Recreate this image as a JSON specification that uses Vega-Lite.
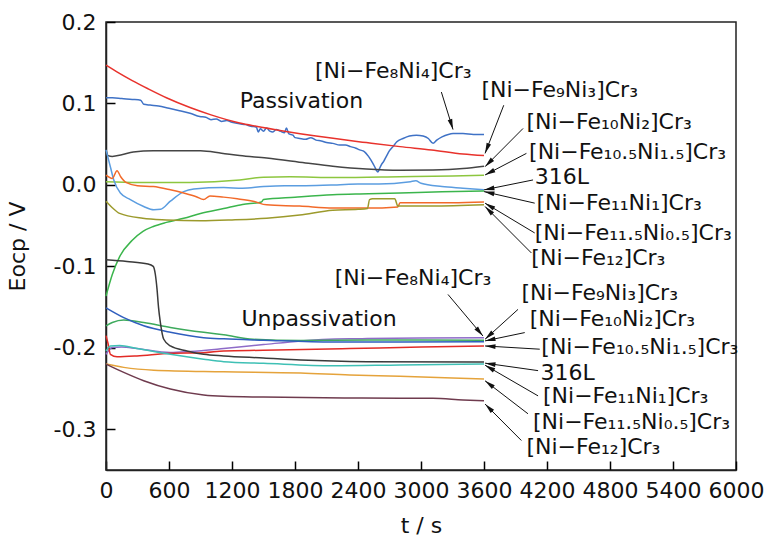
{
  "$schema": "https://vega.github.io/schema/vega-lite/v6.json",
  "width": 630,
  "height": 448,
  "autosize": {"type": "none"},
  "padding": {"left": 106, "top": 22, "right": 32, "bottom": 82},
  "config": {
    "font": "DejaVu Sans",
    "view": {"stroke": "#222222", "strokeWidth": 1.5},
    "axis": {
      "grid": false,
      "domainColor": "#222222",
      "domainWidth": 1.5,
      "tickColor": "#000000",
      "tickWidth": 1.5,
      "tickSize": -9,
      "labelFontSize": 22,
      "labelColor": "#111111",
      "titleFontSize": 22,
      "titleFontWeight": "normal",
      "titleColor": "#111111",
      "labelOverlap": false,
      "labelFlush": false
    }
  },
  "datasets": {
    "curves": [
      {"s":"P8","t":0,"v":0.107},{"s":"P8","t":60,"v":0.107},{"s":"P8","t":150,"v":0.106},{"s":"P8","t":250,"v":0.105},{"s":"P8","t":330,"v":0.104},{"s":"P8","t":360,"v":0.099},{"s":"P8","t":420,"v":0.098},{"s":"P8","t":500,"v":0.097},{"s":"P8","t":600,"v":0.094},{"s":"P8","t":700,"v":0.091},{"s":"P8","t":800,"v":0.088},{"s":"P8","t":893,"v":0.084},{"s":"P8","t":950,"v":0.083},{"s":"P8","t":1000,"v":0.080},{"s":"P8","t":1050,"v":0.081},{"s":"P8","t":1100,"v":0.078},{"s":"P8","t":1150,"v":0.079},{"s":"P8","t":1200,"v":0.077},{"s":"P8","t":1273,"v":0.075},{"s":"P8","t":1330,"v":0.074},{"s":"P8","t":1380,"v":0.072},{"s":"P8","t":1432,"v":0.071},{"s":"P8","t":1450,"v":0.065},{"s":"P8","t":1470,"v":0.069},{"s":"P8","t":1500,"v":0.066},{"s":"P8","t":1530,"v":0.070},{"s":"P8","t":1560,"v":0.066},{"s":"P8","t":1590,"v":0.065},{"s":"P8","t":1620,"v":0.068},{"s":"P8","t":1660,"v":0.066},{"s":"P8","t":1700,"v":0.064},{"s":"P8","t":1718,"v":0.070},{"s":"P8","t":1740,"v":0.063},{"s":"P8","t":1781,"v":0.061},{"s":"P8","t":1800,"v":0.058},{"s":"P8","t":1845,"v":0.057},{"s":"P8","t":1900,"v":0.056},{"s":"P8","t":1950,"v":0.058},{"s":"P8","t":2000,"v":0.055},{"s":"P8","t":2050,"v":0.054},{"s":"P8","t":2100,"v":0.052},{"s":"P8","t":2160,"v":0.051},{"s":"P8","t":2226,"v":0.049},{"s":"P8","t":2280,"v":0.049},{"s":"P8","t":2330,"v":0.047},{"s":"P8","t":2380,"v":0.045},{"s":"P8","t":2416,"v":0.043},{"s":"P8","t":2460,"v":0.041},{"s":"P8","t":2500,"v":0.035},{"s":"P8","t":2525,"v":0.030},{"s":"P8","t":2543,"v":0.026},{"s":"P8","t":2560,"v":0.022},{"s":"P8","t":2575,"v":0.018},{"s":"P8","t":2590,"v":0.016},{"s":"P8","t":2605,"v":0.020},{"s":"P8","t":2623,"v":0.025},{"s":"P8","t":2645,"v":0.029},{"s":"P8","t":2670,"v":0.035},{"s":"P8","t":2700,"v":0.042},{"s":"P8","t":2733,"v":0.047},{"s":"P8","t":2770,"v":0.053},{"s":"P8","t":2829,"v":0.057},{"s":"P8","t":2890,"v":0.060},{"s":"P8","t":2956,"v":0.061},{"s":"P8","t":3020,"v":0.060},{"s":"P8","t":3070,"v":0.057},{"s":"P8","t":3115,"v":0.051},{"s":"P8","t":3150,"v":0.055},{"s":"P8","t":3200,"v":0.059},{"s":"P8","t":3260,"v":0.062},{"s":"P8","t":3305,"v":0.063},{"s":"P8","t":3400,"v":0.063},{"s":"P8","t":3500,"v":0.062},{"s":"P8","t":3600,"v":0.062},
      {"s":"P9","t":0,"v":0.147},{"s":"P9","t":100,"v":0.139},{"s":"P9","t":250,"v":0.128},{"s":"P9","t":400,"v":0.118},{"s":"P9","t":575,"v":0.107},{"s":"P9","t":800,"v":0.095},{"s":"P9","t":1000,"v":0.086},{"s":"P9","t":1273,"v":0.076},{"s":"P9","t":1430,"v":0.072},{"s":"P9","t":1700,"v":0.066},{"s":"P9","t":2000,"v":0.060},{"s":"P9","t":2480,"v":0.052},{"s":"P9","t":2800,"v":0.047},{"s":"P9","t":3100,"v":0.043},{"s":"P9","t":3400,"v":0.038},{"s":"P9","t":3600,"v":0.036},
      {"s":"P10","t":0,"v":0.043},{"s":"P10","t":20,"v":0.036},{"s":"P10","t":60,"v":0.035},{"s":"P10","t":150,"v":0.037},{"s":"P10","t":260,"v":0.0405},{"s":"P10","t":450,"v":0.042},{"s":"P10","t":700,"v":0.042},{"s":"P10","t":900,"v":0.042},{"s":"P10","t":1100,"v":0.039},{"s":"P10","t":1273,"v":0.036},{"s":"P10","t":1530,"v":0.033},{"s":"P10","t":1900,"v":0.027},{"s":"P10","t":2160,"v":0.023},{"s":"P10","t":2480,"v":0.0195},{"s":"P10","t":2800,"v":0.018},{"s":"P10","t":3113,"v":0.0183},{"s":"P10","t":3400,"v":0.020},{"s":"P10","t":3600,"v":0.023},
      {"s":"P105","t":0,"v":0.004},{"s":"P105","t":300,"v":0.003},{"s":"P105","t":800,"v":0.003},{"s":"P105","t":1273,"v":0.006},{"s":"P105","t":1500,"v":0.0095},{"s":"P105","t":1750,"v":0.010},{"s":"P105","t":2200,"v":0.009},{"s":"P105","t":2800,"v":0.010},{"s":"P105","t":3300,"v":0.011},{"s":"P105","t":3600,"v":0.012},
      {"s":"P316","t":0,"v":0.043},{"s":"P316","t":42,"v":0.022},{"s":"P316","t":74,"v":0.006},{"s":"P316","t":137,"v":-0.010},{"s":"P316","t":232,"v":-0.018},{"s":"P316","t":359,"v":-0.0265},{"s":"P316","t":455,"v":-0.0306},{"s":"P316","t":520,"v":-0.030},{"s":"P316","t":613,"v":-0.020},{"s":"P316","t":740,"v":-0.0082},{"s":"P316","t":836,"v":-0.005},{"s":"P316","t":1121,"v":-0.0033},{"s":"P316","t":1300,"v":-0.004},{"s":"P316","t":1500,"v":-0.002},{"s":"P316","t":1700,"v":-0.001},{"s":"P316","t":1900,"v":-0.001},{"s":"P316","t":2200,"v":0.000},{"s":"P316","t":2400,"v":0.001},{"s":"P316","t":2600,"v":0.001},{"s":"P316","t":2900,"v":0.004},{"s":"P316","t":2950,"v":0.005},{"s":"P316","t":3000,"v":0.002},{"s":"P316","t":3200,"v":-0.002},{"s":"P316","t":3400,"v":-0.004},{"s":"P316","t":3600,"v":-0.006},
      {"s":"P11","t":0,"v":-0.1365},{"s":"P11","t":60,"v":-0.110},{"s":"P11","t":130,"v":-0.088},{"s":"P11","t":250,"v":-0.068},{"s":"P11","t":352,"v":-0.057},{"s":"P11","t":450,"v":-0.051},{"s":"P11","t":575,"v":-0.046},{"s":"P11","t":740,"v":-0.041},{"s":"P11","t":900,"v":-0.035},{"s":"P11","t":1121,"v":-0.029},{"s":"P11","t":1300,"v":-0.024},{"s":"P11","t":1480,"v":-0.021},{"s":"P11","t":1500,"v":-0.018},{"s":"P11","t":1800,"v":-0.015},{"s":"P11","t":2160,"v":-0.012},{"s":"P11","t":2500,"v":-0.011},{"s":"P11","t":2800,"v":-0.010},{"s":"P11","t":3200,"v":-0.0085},{"s":"P11","t":3600,"v":-0.0075},
      {"s":"P115","t":0,"v":0.012},{"s":"P115","t":60,"v":0.008},{"s":"P115","t":105,"v":0.0175},{"s":"P115","t":140,"v":0.010},{"s":"P115","t":190,"v":0.003},{"s":"P115","t":300,"v":-0.001},{"s":"P115","t":450,"v":-0.002},{"s":"P115","t":613,"v":-0.006},{"s":"P115","t":740,"v":-0.010},{"s":"P115","t":860,"v":-0.0145},{"s":"P115","t":930,"v":-0.018},{"s":"P115","t":990,"v":-0.0135},{"s":"P115","t":1120,"v":-0.015},{"s":"P115","t":1250,"v":-0.017},{"s":"P115","t":1400,"v":-0.020},{"s":"P115","t":1530,"v":-0.0245},{"s":"P115","t":1845,"v":-0.026},{"s":"P115","t":2160,"v":-0.0285},{"s":"P115","t":2480,"v":-0.0285},{"s":"P115","t":2780,"v":-0.027},{"s":"P115","t":2800,"v":-0.022},{"s":"P115","t":3000,"v":-0.022},{"s":"P115","t":3300,"v":-0.022},{"s":"P115","t":3600,"v":-0.021},
      {"s":"P12","t":0,"v":-0.020},{"s":"P12","t":60,"v":-0.028},{"s":"P12","t":130,"v":-0.035},{"s":"P12","t":350,"v":-0.041},{"s":"P12","t":575,"v":-0.043},{"s":"P12","t":900,"v":-0.044},{"s":"P12","t":1200,"v":-0.043},{"s":"P12","t":1530,"v":-0.041},{"s":"P12","t":1845,"v":-0.037},{"s":"P12","t":2160,"v":-0.031},{"s":"P12","t":2400,"v":-0.030},{"s":"P12","t":2490,"v":-0.029},{"s":"P12","t":2510,"v":-0.018},{"s":"P12","t":2540,"v":-0.017},{"s":"P12","t":2750,"v":-0.017},{"s":"P12","t":2780,"v":-0.026},{"s":"P12","t":3100,"v":-0.026},{"s":"P12","t":3600,"v":-0.0245},
      {"s":"U8","t":0,"v":-0.208},{"s":"U8","t":60,"v":-0.1997},{"s":"U8","t":150,"v":-0.199},{"s":"U8","t":295,"v":-0.2009},{"s":"U8","t":613,"v":-0.2058},{"s":"U8","t":800,"v":-0.2045},{"s":"U8","t":1121,"v":-0.2009},{"s":"U8","t":1219,"v":-0.1997},{"s":"U8","t":1500,"v":-0.196},{"s":"U8","t":1854,"v":-0.1915},{"s":"U8","t":2320,"v":-0.189},{"s":"U8","t":2489,"v":-0.1887},{"s":"U8","t":3000,"v":-0.188},{"s":"U8","t":3600,"v":-0.1875},
      {"s":"U9","t":0,"v":-0.173},{"s":"U9","t":60,"v":-0.169},{"s":"U9","t":169,"v":-0.166},{"s":"U9","t":359,"v":-0.169},{"s":"U9","t":613,"v":-0.175},{"s":"U9","t":930,"v":-0.181},{"s":"U9","t":1121,"v":-0.184},{"s":"U9","t":1400,"v":-0.1895},{"s":"U9","t":1854,"v":-0.191},{"s":"U9","t":2500,"v":-0.1905},{"s":"U9","t":3000,"v":-0.1905},{"s":"U9","t":3600,"v":-0.1907},
      {"s":"U10","t":0,"v":-0.151},{"s":"U10","t":169,"v":-0.163},{"s":"U10","t":359,"v":-0.173},{"s":"U10","t":613,"v":-0.181},{"s":"U10","t":930,"v":-0.1875},{"s":"U10","t":1121,"v":-0.189},{"s":"U10","t":1500,"v":-0.1907},{"s":"U10","t":2160,"v":-0.193},{"s":"U10","t":2800,"v":-0.193},{"s":"U10","t":3600,"v":-0.1927},
      {"s":"U105","t":0,"v":-0.185},{"s":"U105","t":20,"v":-0.195},{"s":"U105","t":42,"v":-0.208},{"s":"U105","t":105,"v":-0.211},{"s":"U105","t":295,"v":-0.210},{"s":"U105","t":613,"v":-0.2066},{"s":"U105","t":930,"v":-0.206},{"s":"U105","t":1121,"v":-0.2038},{"s":"U105","t":1500,"v":-0.203},{"s":"U105","t":2320,"v":-0.2009},{"s":"U105","t":3000,"v":-0.199},{"s":"U105","t":3600,"v":-0.1977},
      {"s":"U316","t":0,"v":-0.092},{"s":"U316","t":200,"v":-0.094},{"s":"U316","t":400,"v":-0.097},{"s":"U316","t":450,"v":-0.100},{"s":"U316","t":470,"v":-0.110},{"s":"U316","t":486,"v":-0.128},{"s":"U316","t":500,"v":-0.150},{"s":"U316","t":518,"v":-0.169},{"s":"U316","t":550,"v":-0.1895},{"s":"U316","t":613,"v":-0.1977},{"s":"U316","t":771,"v":-0.2038},{"s":"U316","t":930,"v":-0.208},{"s":"U316","t":1121,"v":-0.210},{"s":"U316","t":1500,"v":-0.2125},{"s":"U316","t":1854,"v":-0.215},{"s":"U316","t":2489,"v":-0.217},{"s":"U316","t":3600,"v":-0.2175},
      {"s":"U11","t":0,"v":-0.204},{"s":"U11","t":42,"v":-0.1977},{"s":"U11","t":130,"v":-0.197},{"s":"U11","t":295,"v":-0.2009},{"s":"U11","t":613,"v":-0.208},{"s":"U11","t":930,"v":-0.214},{"s":"U11","t":1121,"v":-0.217},{"s":"U11","t":1500,"v":-0.219},{"s":"U11","t":2160,"v":-0.222},{"s":"U11","t":2800,"v":-0.221},{"s":"U11","t":3600,"v":-0.220},
      {"s":"U115","t":0,"v":-0.220},{"s":"U115","t":169,"v":-0.224},{"s":"U115","t":455,"v":-0.2274},{"s":"U115","t":1121,"v":-0.2294},{"s":"U115","t":1854,"v":-0.231},{"s":"U115","t":2320,"v":-0.2335},{"s":"U115","t":2800,"v":-0.235},{"s":"U115","t":3300,"v":-0.237},{"s":"U115","t":3600,"v":-0.2384},
      {"s":"U12","t":0,"v":-0.220},{"s":"U12","t":169,"v":-0.2302},{"s":"U12","t":359,"v":-0.2404},{"s":"U12","t":613,"v":-0.2506},{"s":"U12","t":930,"v":-0.258},{"s":"U12","t":1121,"v":-0.2596},{"s":"U12","t":1500,"v":-0.2605},{"s":"U12","t":2320,"v":-0.2616},{"s":"U12","t":2800,"v":-0.262},{"s":"U12","t":3113,"v":-0.262},{"s":"U12","t":3400,"v":-0.264},{"s":"U12","t":3600,"v":-0.265}
    ],
    "arrows": [
      {"t":3194,"v":0.114,"t2":3305,"v2":0.068},
      {"t":3788,"v":0.0978,"t2":3610,"v2":0.0387},
      {"t":3972,"v":0.0693,"t2":3610,"v2":0.0224},
      {"t":4004,"v":0.0387,"t2":3610,"v2":0.0122},
      {"t":4067,"v":0.0061,"t2":3600,"v2":-0.0061},
      {"t":4083,"v":-0.0224,"t2":3600,"v2":-0.0082},
      {"t":4083,"v":-0.059,"t2":3610,"v2":-0.0224},
      {"t":4051,"v":-0.0835,"t2":3610,"v2":-0.0265},
      {"t":3257,"v":-0.1345,"t2":3590,"v2":-0.1855},
      {"t":3924,"v":-0.1528,"t2":3610,"v2":-0.1895},
      {"t":3988,"v":-0.1813,"t2":3610,"v2":-0.1915},
      {"t":4131,"v":-0.2017,"t2":3610,"v2":-0.1977},
      {"t":4115,"v":-0.228,"t2":3610,"v2":-0.2188},
      {"t":4115,"v":-0.259,"t2":3610,"v2":-0.2213},
      {"t":4019,"v":-0.281,"t2":3610,"v2":-0.2405},
      {"t":3956,"v":-0.3138,"t2":3610,"v2":-0.269}
    ],
    "labels": [
      {"label":"[Ni−Fe₈Ni₄]Cr₃","t":1990,"v":0.140},
      {"label":"Passivation","t":1273,"v":0.1027},
      {"label":"[Ni−Fe₉Ni₃]Cr₃","t":3575,"v":0.116},
      {"label":"[Ni−Fe₁₀Ni₂]Cr₃","t":4004,"v":0.0774},
      {"label":"[Ni−Fe₁₀.₅Ni₁.₅]Cr₃","t":4029,"v":0.0407},
      {"label":"316L","t":4083,"v":0.0102},
      {"label":"[Ni−Fe₁₁Ni₁]Cr₃","t":4099,"v":-0.0224},
      {"label":"[Ni−Fe₁₁.₅Ni₀.₅]Cr₃","t":4083,"v":-0.059},
      {"label":"[Ni−Fe₁₂]Cr₃","t":4051,"v":-0.0896},
      {"label":"[Ni−Fe₈Ni₄]Cr₃","t":2178,"v":-0.114},
      {"label":"Unpassivation","t":1290,"v":-0.165},
      {"label":"[Ni−Fe₉Ni₃]Cr₃","t":3956,"v":-0.1324},
      {"label":"[Ni−Fe₁₀Ni₂]Cr₃","t":4035,"v":-0.165},
      {"label":"[Ni−Fe₁₀.₅Ni₁.₅]Cr₃","t":4146,"v":-0.1985},
      {"label":"316L","t":4137,"v":-0.2305},
      {"label":"[Ni−Fe₁₁Ni₁]Cr₃","t":4162,"v":-0.2595},
      {"label":"[Ni−Fe₁₁.₅Ni₀.₅]Cr₃","t":4067,"v":-0.2915},
      {"label":"[Ni−Fe₁₂]Cr₃","t":4004,"v":-0.322}
    ]
  },
  "layer": [
    {
      "data": {"name": "curves"},
      "mark": {"type": "line", "strokeWidth": 1.5, "interpolate": "monotone"},
      "encoding": {
        "x": {"field": "t", "type": "quantitative", "scale": {"domain": [0, 6000], "nice": false, "zero": false},
              "axis": {"title": "t / s", "values": [0,600,1200,1800,2400,3000,3600,4200,4800,5400,6000], "format": "d", "labelPadding": 19, "titlePadding": 14}},
        "y": {"field": "v", "type": "quantitative", "scale": {"domain": [-0.35, 0.2], "nice": false, "zero": false},
              "axis": {"title": "Eocp / V", "values": [-0.3,-0.2,-0.1,0,0.1,0.2], "labelExpr": "replace(format(datum.value, '.1f'), '−', '-')", "labelPadding": 19, "titlePadding": 24}},
        "color": {"field": "s", "type": "nominal", "legend": null,
                  "scale": {"domain": ["P8","P9","P10","P105","P316","P11","P115","P12","U8","U9","U10","U105","U316","U11","U115","U12"],
                            "range": ["#3F72C6","#E8322C","#454545","#8DC63F","#5B9DE0","#3BB54C","#F26A2A","#9C9A2C","#8E6BC8","#3DAA5C","#2F5EBE","#E22B26","#3A3A3A","#3FC0B5","#E5A33B","#6F3B4E"]}},
        "detail": {"field": "s"}
      }
    },
    {
      "data": {"name": "arrows"},
      "mark": {"type": "rule", "color": "#111111", "strokeWidth": 1},
      "encoding": {
        "x": {"field": "t", "type": "quantitative", "title": "t / s"},
        "y": {"field": "v", "type": "quantitative", "title": "Eocp / V"},
        "x2": {"field": "t2"},
        "y2": {"field": "v2"}
      }
    },
    {
      "data": {"name": "arrows"},
      "transform": [{"calculate": "atan2((datum.t2 - datum.t) * 0.105, (datum.v2 - datum.v) * 814.5) * 180 / PI", "as": "ang"}],
      "mark": {"type": "point", "shape": "M0,0L0.5,2.2L-0.5,2.2Z", "filled": true, "color": "#111111", "size": 90, "opacity": 1},
      "encoding": {
        "x": {"field": "t2", "type": "quantitative", "title": "t / s"},
        "y": {"field": "v2", "type": "quantitative", "title": "Eocp / V"},
        "angle": {"field": "ang", "type": "quantitative", "scale": null}
      }
    },
    {
      "data": {"name": "labels"},
      "mark": {"type": "text", "align": "left", "baseline": "middle", "fontSize": 22, "color": "#111111"},
      "encoding": {
        "x": {"field": "t", "type": "quantitative", "title": "t / s"},
        "y": {"field": "v", "type": "quantitative", "title": "Eocp / V"},
        "text": {"field": "label"}
      }
    }
  ]
}
